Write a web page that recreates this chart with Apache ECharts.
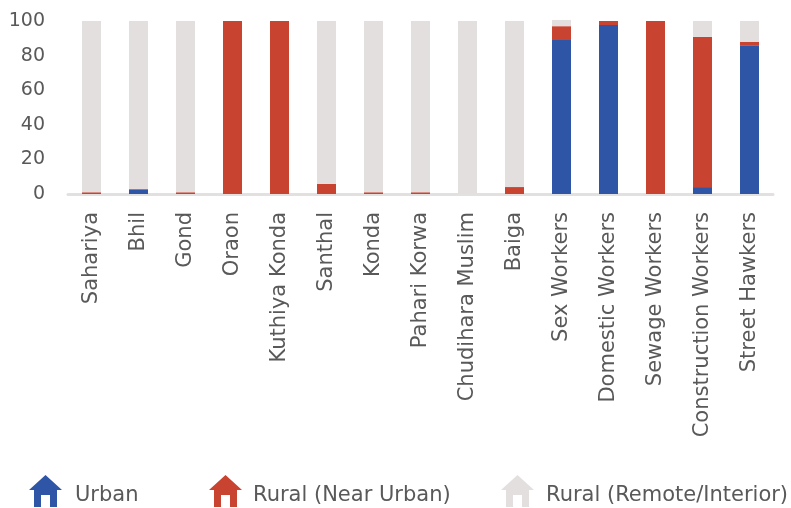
<!DOCTYPE html>
<html>
<head>
<meta charset="utf-8">
<style>
  html, body { margin: 0; padding: 0; background: #fff; }
  #chart { width: 791px; height: 508px; }
</style>
<script src="https://cdn.jsdelivr.net/npm/echarts@6/dist/echarts.min.js"></script>
</head>
<body>
<div id="chart"></div>
<script>
var categories = ['Sahariya', 'Bhil', 'Gond', 'Oraon', 'Kuthiya Konda', 'Santhal', 'Konda', 'Pahari Korwa',
    'Chudihara Muslim', 'Baiga', 'Sex Workers', 'Domestic Workers', 'Sewage Workers', 'Construction Workers', 'Street Hawkers'];
var urban = [0, 2.5, 0, 0, 0, 0, 0, 0, 0, 0, 89, 97.7, 0, 4, 86];
var nearUrban = [1, 0.5, 1, 100, 100, 5.8, 1, 1, 0, 4, 8, 2.3, 100, 86.8, 2];
var remote = [99, 97, 99, 0, 0, 94.2, 99, 99, 100, 96, 3.6, 0, 0, 9.2, 12];
var yTicks = [0, 20, 40, 60, 80, 100];

var fontName = 'DejaVu Sans';
var textColor = '#595959';
// 房子图标
var houseIcon = 'path://M16.5 0L33 15H28V32H21V20H12V32H5V15H0Z';

function makeSeries(name, values, color) {
    return {
        name: name,
        type: 'bar',
        stack: 'total',
        barWidth: 19,
        clip: false,
        itemStyle: { color: color },
        data: values
    };
}

function makeLegend(name, left, textGap) {
    return {
        data: [name],
        left: left,
        top: 475,
        padding: 0,
        itemWidth: 33,
        itemHeight: 32,
        itemGap: 0,
        icon: houseIcon,
        formatter: '{t|{name}}',
        textStyle: {
            rich: {
                t: {
                    color: textColor,
                    fontFamily: fontName,
                    fontSize: 21,
                    padding: [10, 0, 0, textGap]
                }
            }
        }
    };
}

var chart = echarts.init(document.getElementById('chart'), null, { renderer: 'canvas' });
chart.setOption({
    animation: false,
    backgroundColor: '#fff',
    grid: { left: 68, right: 18, top: 21, bottom: 314 },
    legend: [
        makeLegend('Urban', 29, 8),
        makeLegend('Rural (Near Urban)', 209, 6),
        makeLegend('Rural (Remote/Interior)', 501, 7)
    ],
    xAxis: {
        type: 'category',
        data: categories,
        axisLine: { lineStyle: { color: '#e3e0e0', width: 3 } },
        axisTick: { show: false },
        axisLabel: {
            interval: 0,
            rotate: 90,
            margin: 18,
            color: textColor,
            fontFamily: fontName,
            fontSize: 21,
            fontWeight: 400
        }
    },
    yAxis: {
        type: 'value',
        min: yTicks[0],
        max: yTicks[yTicks.length - 1],
        interval: 20,
        axisLine: { show: false },
        axisTick: { show: false },
        splitLine: { show: false },
        axisLabel: {
            margin: 23,
            color: textColor,
            fontFamily: fontName,
            fontSize: 19,
            fontWeight: 400
        }
    },
    series: [
        makeSeries('Urban', urban, '#2f56a6'),
        makeSeries('Rural (Near Urban)', nearUrban, '#c84330'),
        makeSeries('Rural (Remote/Interior)', remote, '#e4dfdf')
    ]
});
</script>
</body>
</html>
